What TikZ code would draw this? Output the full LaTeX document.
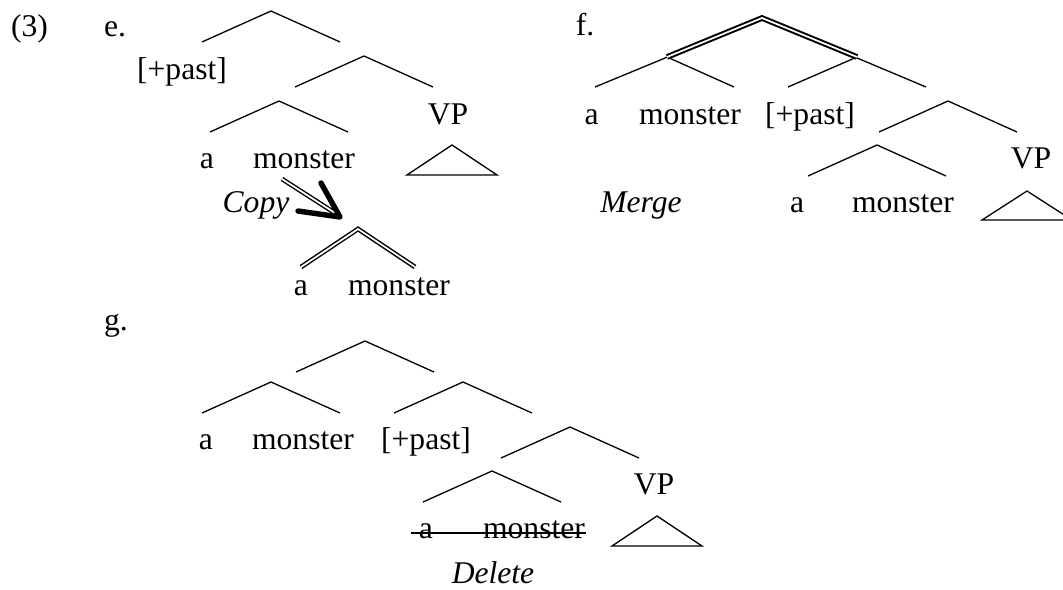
\documentclass[tikz,border=0pt]{standalone}
\usepackage{fontspec}
\setmainfont{Liberation Serif}

\begin{document}
\begin{tikzpicture}[x=0.5pt, y=-0.5pt,
    every node/.style={font=\fontsize{15.8}{19}\selectfont, inner sep=0pt, anchor=base},
    br/.style={line width=0.65pt},
    dbl/.style={double, line width=0.7pt, double distance=0.9pt},
    fat/.style={double, line width=1pt, double distance=0.85pt},
    barb/.style={line width=2.7pt, line cap=round, line join=round},
    strike/.style={line width=1pt}]
    \useasboundingbox (0,0) rectangle (1063,589);
    \clip (0,0) rectangle (1063,589);
    \node (ex) at (29.5,36) {(3)};
    \node (e) at (115,36) {e.};
    \node (f) at (585,35) {f.};
    \node (g) at (116,330) {g.};

    % e.
    \coordinate (e1) at (271,11);
    \coordinate (e2) at (364,56);
    \coordinate (e3) at (279,101);
    \coordinate (eVP) at (452,145);
    \draw[br] (e1) +(-69,31) -- (e1) -- +(69,31);
    \draw[br] (e2) +(-69,31) -- (e2) -- +(69,31);
    \draw[br] (e3) +(-69,31) -- (e3) -- +(69,31);
    \draw[br] (eVP) -- +(-45,30) -- +(45,30) -- cycle;
    \node (ePast) at (182,79) {[+past]};
    \node (eV) at (448,124) {VP};
    \node (eA) at (207,168) {a};
    \node (eM) at (304,168) {monster};

    \coordinate (cS) at (282,179);
    \coordinate (cE) at (335,213);
    \coordinate (cTip) at (340,217);
    \coordinate (cB1) at (321,183);
    \coordinate (cB2) at (298,211);
    \draw[dbl] (cS) -- (cE);
    \draw[barb] (cB1) -- (cTip) -- (cB2);
    \node (copy) at (256,212) {\textit{Copy}};
    \coordinate (c1) at (358,229);
    \draw[dbl] (c1) +(-57,38) -- (c1) -- +(57,38);
    \node (cA) at (301,295) {a};
    \node (cM) at (399,295) {monster};

    % f.
    \coordinate (f1) at (762,18);
    \coordinate (f2) at (667,57);
    \coordinate (f3) at (857,57);
    \coordinate (f4) at (948,101);
    \coordinate (f5) at (877,145);
    \coordinate (fVP) at (1027,191);
    \draw[br] (f1) +(-167,69) -- (f1) -- +(164,69);
    \draw[br] (f2) -- +(67,30);
    \draw[br] (f3) -- +(-69,30);
    \draw[fat] (f2) -- (f1) -- (f3);
    \draw[br] (f4) +(-69,31) -- (f4) -- +(69,31);
    \draw[br] (f5) +(-69,31) -- (f5) -- +(69,31);
    \draw[br] (fVP) -- +(-45,29) -- +(45,29) -- cycle;
    \node (fA) at (591.5,124) {a};
    \node (fM) at (690,124) {monster};
    \node (fPast) at (810,124) {[+past]};
    \node (fV) at (1031,168) {VP};
    \node (merge) at (641,212) {\textit{Merge}};
    \node (fA2) at (797,212) {a};
    \node (fM2) at (903,212) {monster};

    % g.
    \coordinate (g1) at (365,341);
    \coordinate (g2) at (271,382);
    \coordinate (g3) at (463,382);
    \coordinate (g4) at (570,427);
    \coordinate (g5) at (492,471);
    \coordinate (gVP) at (657,516);
    \draw[br] (g1) +(-69,31) -- (g1) -- +(69,31);
    \draw[br] (g2) +(-69,31) -- (g2) -- +(69,31);
    \draw[br] (g3) +(-69,31) -- (g3) -- +(69,31);
    \draw[br] (g4) +(-69,31) -- (g4) -- +(69,31);
    \draw[br] (g5) +(-69,31) -- (g5) -- +(69,31);
    \draw[br] (gVP) -- +(-45,30) -- +(45,30) -- cycle;
    \node (gA) at (206,449) {a};
    \node (gM) at (303,449) {monster};
    \node (gPast) at (426,449) {[+past]};
    \node (gV) at (654,494) {VP};
    \node (gA2) at (426,538) {a};
    \node (gM2) at (534,538) {monster};
    \coordinate (s1) at (411,533);
    \coordinate (s2) at (586,533);
    \draw[strike] (s1) -- (s2);
    \node (delete) at (493,583) {\textit{Delete}};
\end{tikzpicture}
\end{document}
